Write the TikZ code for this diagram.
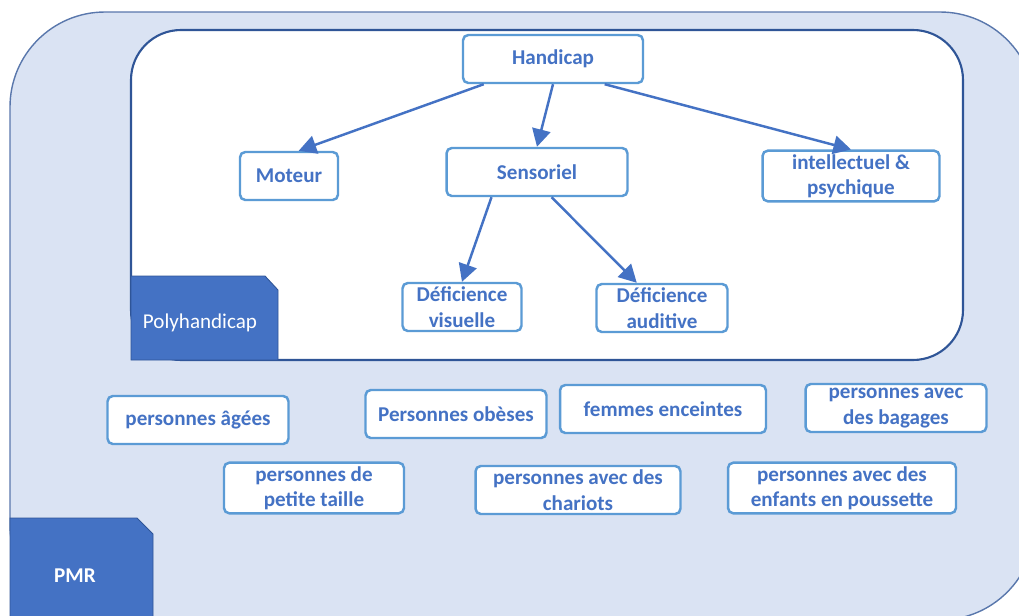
\documentclass[tikz,border=0pt]{standalone}
\usepackage{fontspec}
\setmainfont{Carlito}
\usetikzlibrary{arrows.meta}
\definecolor{fondpmr}{HTML}{DAE3F3}
\definecolor{bleu}{HTML}{4472C4}
\definecolor{bordclair}{HTML}{5B9BD5}
\definecolor{bordfonce}{HTML}{2F5597}
\begin{document}
\begin{tikzpicture}[x=0.02cm, y=-0.02cm, >={Triangle[length=10pt,width=10.5pt]},
  boite/.style={draw=bordclair, line width=1.4pt, fill=white, rounded corners=3pt,
    text=bleu, font=\bfseries\fontsize{12}{14.5}\selectfont, align=center,
    minimum height=0.96cm, inner sep=2pt},
  fleche/.style={->, draw=bleu, fill=bleu, line width=1.4pt},
  onglet/.style={fill=bleu, draw=bordfonce, line width=0.5pt}]

\useasboundingbox (0,0) rectangle (1019,616);
\clip (0,0) rectangle (1019,616);

% fond PMR et cadre du handicap
\draw[fill=fondpmr, draw=bordfonce!80, line width=0.8pt, rounded corners=1.9cm] (10,12) rectangle (1035,620);
\draw[fill=white, draw=bordfonce, line width=1.2pt, rounded corners=1cm] (131,30) rectangle (963,360);

\draw[onglet] (131,276) -- (265,276) -- (278,290) -- (278,360) -- (131,360) -- cycle;
\node[text=white, font=\fontsize{12}{14}\selectfont] (poly) at (200,323) {Polyhandicap};
\draw[onglet] (10,518) -- (137,518) -- (153,534) -- (153,620) -- (10,620) -- cycle;
\node[text=white, font=\bfseries\fontsize{12}{14}\selectfont] (pmr) at (75,576) {PMR};

% types de handicap
\node[boite, minimum width=3.6cm] (hand) at (553,59) {Handicap};
\node[boite, minimum width=1.96cm] (mot) at (289,176) {Moteur};
\node[boite, minimum width=3.62cm] (sens) at (537,172) {Sensoriel};
\node[boite, minimum width=3.54cm] (intel) at (851,176) {intellectuel \&\\psychique};
\node[boite, minimum width=2.38cm] (vis) at (462,307) {Déficience\\visuelle};
\node[boite, minimum width=2.62cm] (aud) at (662,308) {Déficience\\auditive};

\draw[fleche] (hand.200) -- (mot.69);
\draw[fleche] (hand.south) -- (sens.north);
\draw[fleche] (hand.-26) -- (intel.north);
\draw[fleche] (sens.209) -- (vis.north);
\draw[fleche] (sens.-60) -- (aud.135);

% autres PMR
\node[boite, minimum width=3.62cm] (ages) at (198,420) {personnes âgées};
\node[boite, minimum width=3.62cm] (obes) at (456,414) {Personnes obèses};
\node[boite, minimum width=4.12cm] (enc) at (663,409) {femmes enceintes};
\node[boite, minimum width=3.62cm] (bag) at (896,408) {personnes avec\\des bagages};
\node[boite, minimum width=3.6cm] (petit) at (314,488) {personnes de\\petite taille};
\node[boite, minimum width=4.1cm] (char) at (578,490) {personnes avec des\\chariots};
\node[boite, minimum width=4.56cm] (pous) at (842,488) {personnes avec des\\enfants en poussette};
\end{tikzpicture}
\end{document}
